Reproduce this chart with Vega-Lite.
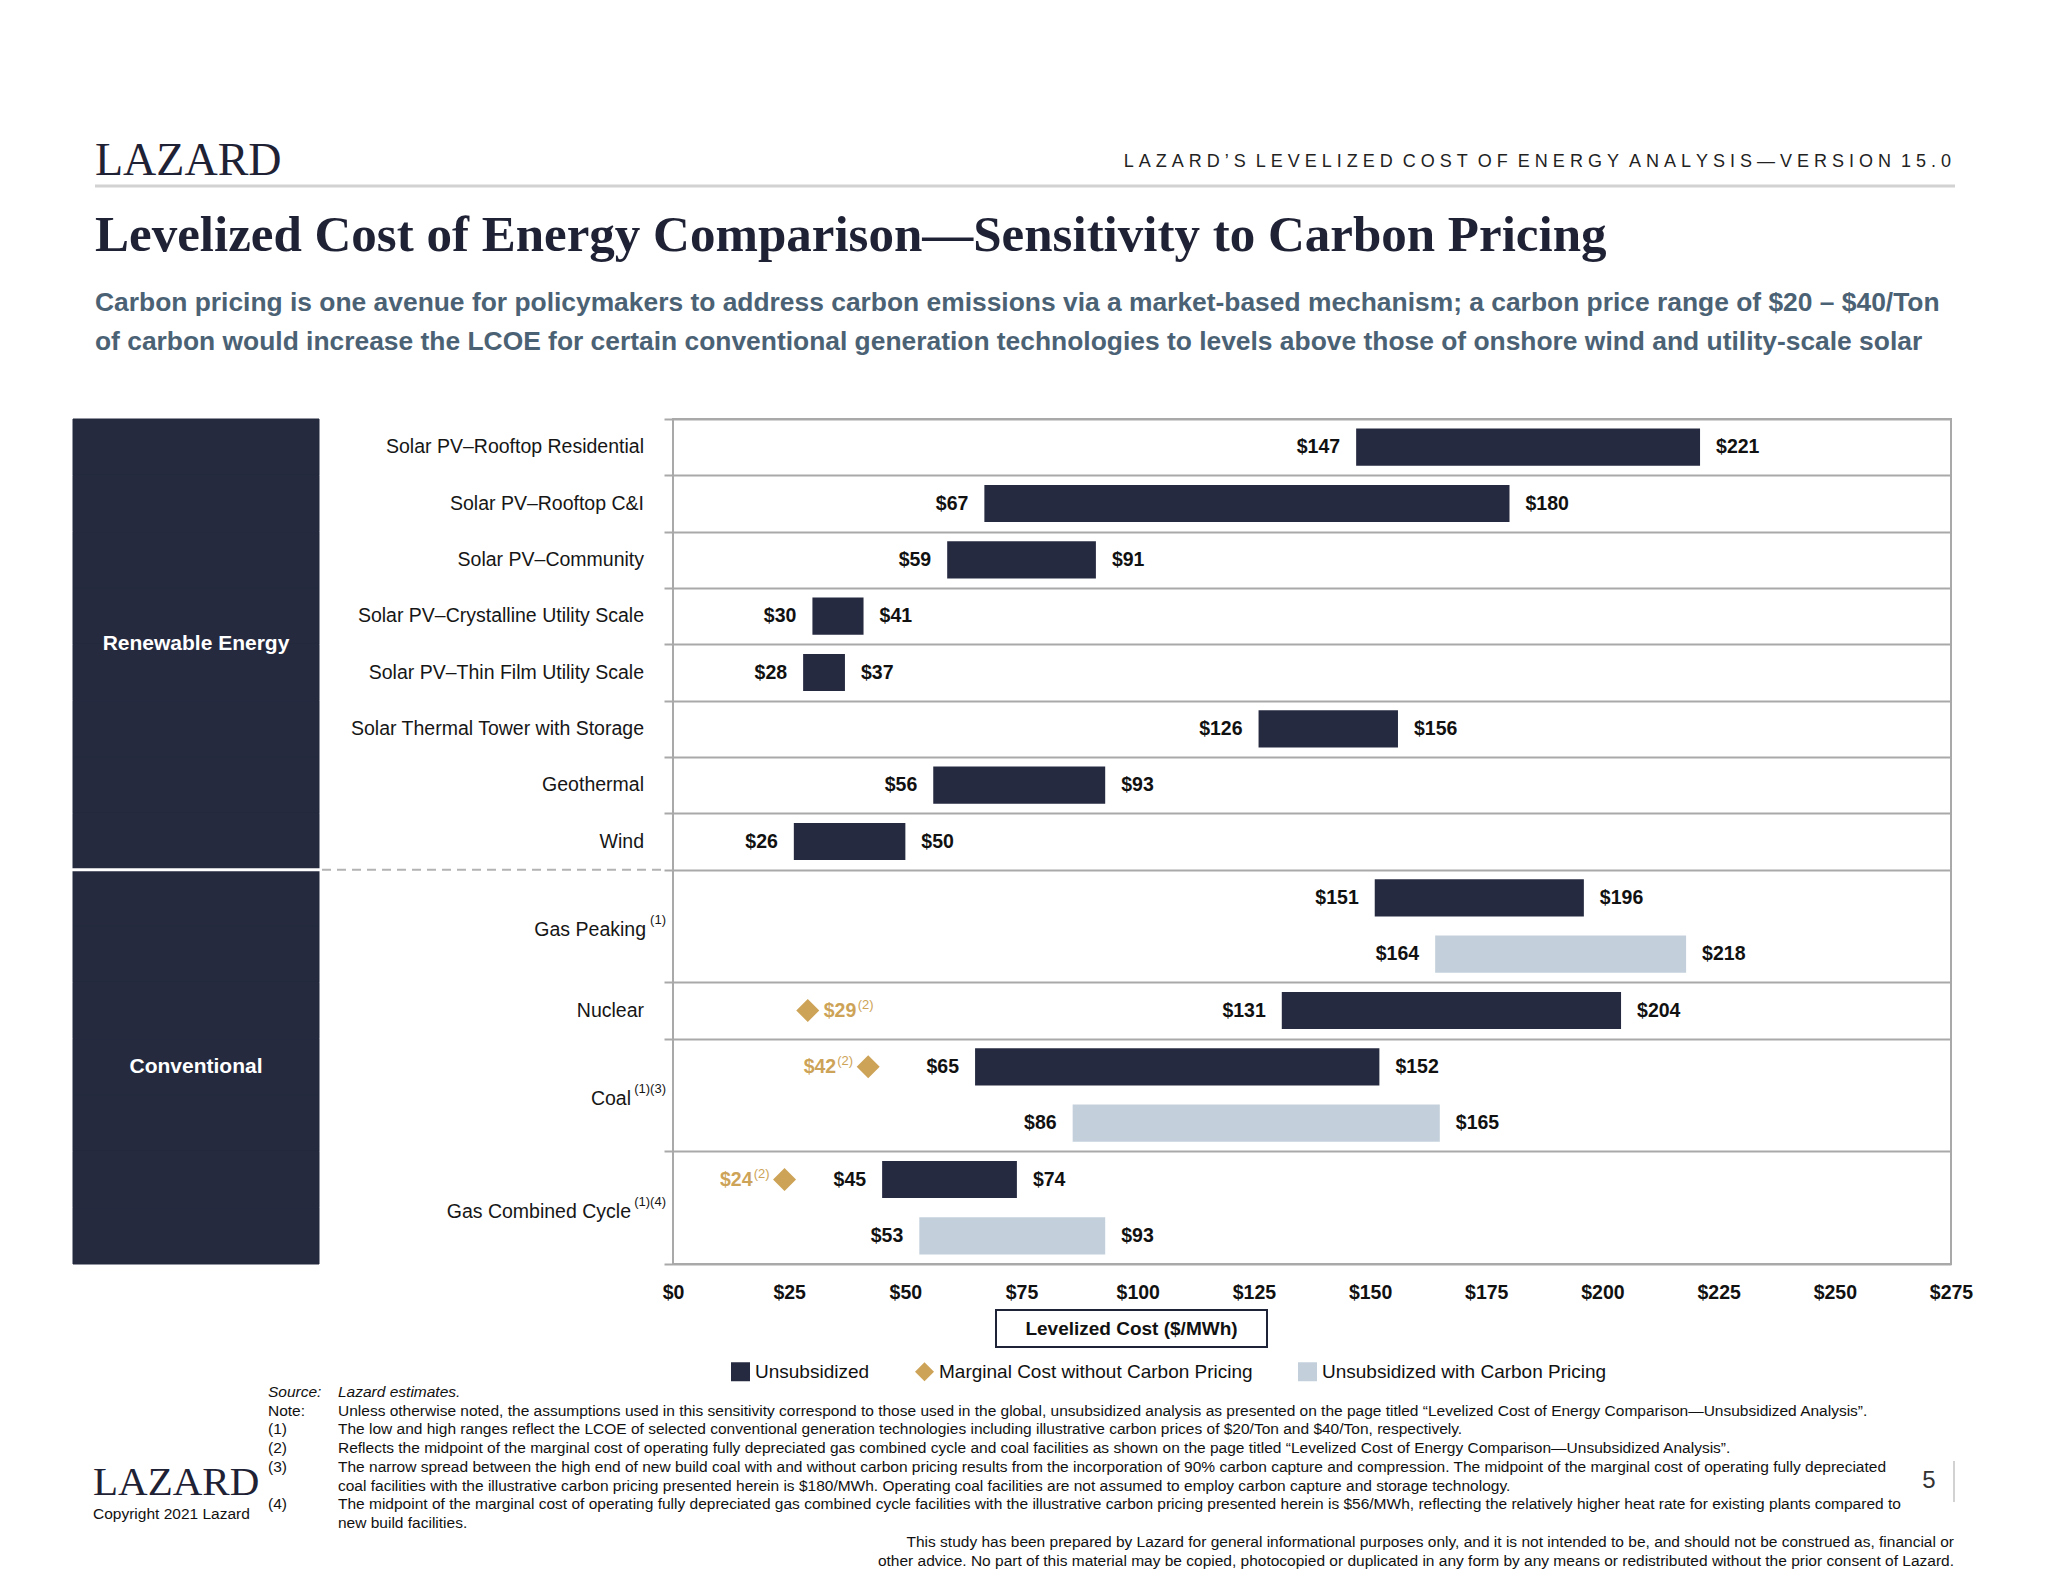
{
  "$schema": "https://vega.github.io/schema/vega-lite/v6.json",
  "autosize": {"type": "none"},
  "width": 1278,
  "height": 845,
  "padding": {"left": 673, "top": 419, "right": 97, "bottom": 318},
  "background": "#ffffff",
  "title": {
    "text": "Levelized Cost of Energy Comparison—Sensitivity to Carbon Pricing",
    "subtitle": ["Carbon pricing is one avenue for policymakers to address carbon emissions via a market-based mechanism; a carbon price range of $20 – $40/Ton", "of carbon would increase the LCOE for certain conventional generation technologies to levels above those of onshore wind and utility-scale solar"],
    "anchor": "start", "frame": "group", "dx": -578, "dy": 278, "offset": 60, "limit": 2000,
    "font": "Liberation Serif", "fontSize": 51, "fontWeight": "bold", "color": "#1F2235",
    "subtitleFont": "Liberation Sans, Arial, sans-serif",
    "subtitleFontSize": 26.4, "subtitleFontWeight": "bold", "subtitleColor": "#4B6275",
    "subtitleLineHeight": 39, "subtitlePadding": 28
  },
  "datasets": {
    "bars": [
      {"row": 1, "group": "Renewable Energy", "tech": "Solar PV–Rooftop Residential", "note": "", "series": "Unsubsidized", "low": 147, "high": 221},
      {"row": 2, "group": "Renewable Energy", "tech": "Solar PV–Rooftop C&I", "note": "", "series": "Unsubsidized", "low": 67, "high": 180},
      {"row": 3, "group": "Renewable Energy", "tech": "Solar PV–Community", "note": "", "series": "Unsubsidized", "low": 59, "high": 91},
      {"row": 4, "group": "Renewable Energy", "tech": "Solar PV–Crystalline Utility Scale", "note": "", "series": "Unsubsidized", "low": 30, "high": 41},
      {"row": 5, "group": "Renewable Energy", "tech": "Solar PV–Thin Film Utility Scale", "note": "", "series": "Unsubsidized", "low": 28, "high": 37},
      {"row": 6, "group": "Renewable Energy", "tech": "Solar Thermal Tower with Storage", "note": "", "series": "Unsubsidized", "low": 126, "high": 156},
      {"row": 7, "group": "Renewable Energy", "tech": "Geothermal", "note": "", "series": "Unsubsidized", "low": 56, "high": 93},
      {"row": 8, "group": "Renewable Energy", "tech": "Wind", "note": "", "series": "Unsubsidized", "low": 26, "high": 50},
      {"row": 9, "group": "Conventional", "tech": "Gas Peaking", "note": "(1)", "series": "Unsubsidized", "low": 151, "high": 196},
      {"row": 10, "group": "Conventional", "tech": "Gas Peaking", "note": "(1)", "series": "Unsubsidized with Carbon Pricing", "low": 164, "high": 218},
      {"row": 11, "group": "Conventional", "tech": "Nuclear", "note": "", "series": "Unsubsidized", "low": 131, "high": 204},
      {"row": 12, "group": "Conventional", "tech": "Coal", "note": "(1)(3)", "series": "Unsubsidized", "low": 65, "high": 152},
      {"row": 13, "group": "Conventional", "tech": "Coal", "note": "(1)(3)", "series": "Unsubsidized with Carbon Pricing", "low": 86, "high": 165},
      {"row": 14, "group": "Conventional", "tech": "Gas Combined Cycle", "note": "(1)(4)", "series": "Unsubsidized", "low": 45, "high": 74},
      {"row": 15, "group": "Conventional", "tech": "Gas Combined Cycle", "note": "(1)(4)", "series": "Unsubsidized with Carbon Pricing", "low": 53, "high": 93}
    ],
    "marginal": [
      {"row": 11, "tech": "Nuclear", "series": "Marginal Cost without Carbon Pricing", "value": 29, "note": "(2)"},
      {"row": 12, "tech": "Coal", "series": "Marginal Cost without Carbon Pricing", "value": 42, "note": "(2)"},
      {"row": 14, "tech": "Gas Combined Cycle", "series": "Marginal Cost without Carbon Pricing", "value": 24, "note": "(2)"}
    ],
    "page": [
      {"item": "logo", "text": "LAZARD"},
      {"item": "header", "text": "L\u00a0A\u00a0Z\u00a0A\u00a0R\u00a0D\u00a0’\u00a0S\u00a0\u00a0L\u00a0E\u00a0V\u00a0E\u00a0L\u00a0I\u00a0Z\u00a0E\u00a0D\u00a0\u00a0C\u00a0O\u00a0S\u00a0T\u00a0\u00a0O\u00a0F\u00a0\u00a0E\u00a0N\u00a0E\u00a0R\u00a0G\u00a0Y\u00a0\u00a0A\u00a0N\u00a0A\u00a0L\u00a0Y\u00a0S\u00a0I\u00a0S\u00a0—\u00a0V\u00a0E\u00a0R\u00a0S\u00a0I\u00a0O\u00a0N\u00a0\u00a01\u00a05\u00a0.\u00a00"},
      {"item": "footlogo", "text": "LAZARD"},
      {"item": "copyright", "text": "Copyright 2021 Lazard"},
      {"item": "page", "text": "5"}
    ],
    "notes": [
      {"line": 0, "kind": "source", "tag": "Source:", "text": "Lazard estimates."},
      {"line": 1, "kind": "note", "tag": "Note:", "text": "Unless otherwise noted, the assumptions used in this sensitivity correspond to those used in the global, unsubsidized analysis as presented on the page titled “Levelized Cost of Energy Comparison—Unsubsidized Analysis”."},
      {"line": 2, "kind": "note", "tag": "(1)", "text": "The low and high ranges reflect the LCOE of selected conventional generation technologies including illustrative carbon prices of $20/Ton and $40/Ton, respectively."},
      {"line": 3, "kind": "note", "tag": "(2)", "text": "Reflects the midpoint of the marginal cost of operating fully depreciated gas combined cycle and coal facilities as shown on the page titled “Levelized Cost of Energy Comparison—Unsubsidized Analysis”."},
      {"line": 4, "kind": "note", "tag": "(3)", "text": "The narrow spread between the high end of new build coal with and without carbon pricing results from the incorporation of 90% carbon capture and compression. The midpoint of the marginal cost of operating fully depreciated"},
      {"line": 5, "kind": "note", "tag": "", "text": "coal facilities with the illustrative carbon pricing presented herein is $180/MWh. Operating coal facilities are not assumed to employ carbon capture and storage technology."},
      {"line": 6, "kind": "note", "tag": "(4)", "text": "The midpoint of the marginal cost of operating fully depreciated gas combined cycle facilities with the illustrative carbon pricing presented herein is $56/MWh, reflecting the relatively higher heat rate for existing plants compared to"},
      {"line": 7, "kind": "note", "tag": "", "text": "new build facilities."}
    ],
    "disclaimer": [
      {"line": 0, "text": "This study has been prepared by Lazard for general informational purposes only, and it is not intended to be, and should not be construed as, financial or"},
      {"line": 1, "text": "other advice. No part of this material may be copied, photocopied or duplicated in any form by any means or redistributed without the prior consent of Lazard."}
    ]
  },
  "resolve": {"scale": {"x": "independent", "y": "independent"}},
  "layer": [
    {
      "data": {"name": "bars"},
      "transform": [{"aggregate": [{"op": "mean", "field": "row", "as": "mid"}], "groupby": ["tech", "note"]}, {"filter": "datum.note === ''"}],
      "mark": {"type": "text", "align": "right", "baseline": "middle", "dx": -29, "font": "Liberation Sans, Arial, sans-serif", "fontSize": 19.5, "color": "#161616"},
      "encoding": {
        "x": {"datum": 0, "type": "quantitative", "scale": {"domain": [0, 275], "nice": false, "zero": false}, "axis": null},
        "y": {"field": "mid", "type": "quantitative", "scale": {"domain": [0.5, 15.5], "range": [0, 845], "nice": false, "zero": false},
              "axis": {"values": [0.5, 1.5, 2.5, 3.5, 4.5, 5.5, 6.5, 7.5, 8.5, 10.5, 11.5, 13.5, 15.5], "grid": true, "gridColor": "#A9A9A9", "gridWidth": 2, "ticks": true, "tickSize": 9, "tickColor": "#A9A9A9", "tickWidth": 2, "labels": false, "domain": false, "title": null}},
        "text": {"field": "tech"}
      }
    },
    {
      "data": {"name": "bars"},
      "transform": [{"aggregate": [{"op": "mean", "field": "row", "as": "mid"}], "groupby": ["tech", "note"]}, {"filter": "datum.tech === 'Gas Peaking'"}],
      "mark": {"type": "text", "align": "right", "baseline": "middle", "dx": -27, "dy": 4, "font": "Liberation Sans, Arial, sans-serif", "fontSize": 19.5, "color": "#161616"},
      "encoding": {
        "x": {"datum": 0, "type": "quantitative", "scale": {"domain": [0, 275], "nice": false, "zero": false}, "axis": null},
        "y": {"field": "mid", "type": "quantitative", "scale": {"domain": [0.5, 15.5], "range": [0, 845], "nice": false, "zero": false}, "axis": null},
        "text": {"field": "tech"}
      }
    },
    {
      "data": {"name": "bars"},
      "transform": [{"aggregate": [{"op": "mean", "field": "row", "as": "mid"}], "groupby": ["tech", "note"]}, {"filter": "datum.note !== '' && datum.tech !== 'Gas Peaking'"}],
      "mark": {"type": "text", "align": "right", "baseline": "middle", "dx": -42, "dy": 4, "font": "Liberation Sans, Arial, sans-serif", "fontSize": 19.5, "color": "#161616"},
      "encoding": {
        "x": {"datum": 0, "type": "quantitative", "scale": {"domain": [0, 275], "nice": false, "zero": false}, "axis": null},
        "y": {"field": "mid", "type": "quantitative", "scale": {"domain": [0.5, 15.5], "range": [0, 845], "nice": false, "zero": false}, "axis": null},
        "text": {"field": "tech"}
      }
    },
    {
      "data": {"name": "bars"},
      "transform": [{"aggregate": [{"op": "mean", "field": "row", "as": "mid"}], "groupby": ["tech", "note"]}, {"filter": "datum.note !== ''"}],
      "mark": {"type": "text", "align": "right", "baseline": "middle", "dx": -7, "dy": -6, "font": "Liberation Sans, Arial, sans-serif", "fontSize": 13, "color": "#161616"},
      "encoding": {
        "x": {"datum": 0, "type": "quantitative", "scale": {"domain": [0, 275], "nice": false, "zero": false}, "axis": null},
        "y": {"field": "mid", "type": "quantitative", "scale": {"domain": [0.5, 15.5], "range": [0, 845], "nice": false, "zero": false}, "axis": null},
        "text": {"field": "note"}
      }
    },
    {
      "data": {"name": "bars"},
      "mark": {"type": "rect", "color": "#252A3F", "stroke": "#252A3F", "strokeWidth": 1},
      "encoding": {
        "x": {"datum": 73, "type": "quantitative", "scale": {"domain": [0, 2048], "range": [-673, 1375], "nice": false, "zero": false}, "axis": null},
        "x2": {"datum": 319},
        "y": {"field": "row", "type": "ordinal", "scale": {"type": "band", "domain": [1, 2, 3, 4, 5, 6, 7, 8, 9, 10, 11, 12, 13, 14, 15], "paddingInner": 0, "paddingOuter": 0}, "axis": null}
      }
    },
    {
      "data": {"name": "bars"},
      "transform": [{"filter": "datum.group === 'Conventional'"}, {"aggregate": [{"op": "min", "field": "row", "as": "row"}]}],
      "mark": {"type": "rule", "color": "#ffffff", "strokeWidth": 3},
      "encoding": {
        "x": {"datum": 70, "type": "quantitative", "scale": {"domain": [0, 2048], "range": [-673, 1375], "nice": false, "zero": false}, "axis": null},
        "x2": {"datum": 322},
        "y": {"field": "row", "type": "ordinal", "bandPosition": 0, "scale": {"type": "band", "domain": [1, 2, 3, 4, 5, 6, 7, 8, 9, 10, 11, 12, 13, 14, 15], "paddingInner": 0, "paddingOuter": 0}, "axis": null}
      }
    },
    {
      "data": {"name": "bars"},
      "transform": [{"filter": "datum.group === 'Conventional'"}, {"aggregate": [{"op": "min", "field": "row", "as": "row"}]}],
      "mark": {"type": "rule", "color": "#B3B3B3", "strokeWidth": 2, "strokeDash": [9, 6]},
      "encoding": {
        "x": {"datum": 322, "type": "quantitative", "scale": {"domain": [0, 2048], "range": [-673, 1375], "nice": false, "zero": false}, "axis": null},
        "x2": {"datum": 664},
        "y": {"field": "row", "type": "ordinal", "bandPosition": 0, "scale": {"type": "band", "domain": [1, 2, 3, 4, 5, 6, 7, 8, 9, 10, 11, 12, 13, 14, 15], "paddingInner": 0, "paddingOuter": 0}, "axis": null}
      }
    },
    {
      "data": {"name": "bars"},
      "transform": [{"aggregate": [{"op": "mean", "field": "row", "as": "mid"}], "groupby": ["group"]}],
      "mark": {"type": "text", "align": "center", "baseline": "middle", "font": "Liberation Sans, Arial, sans-serif", "fontSize": 21, "fontWeight": "bold", "color": "#ffffff"},
      "encoding": {
        "x": {"datum": 196, "type": "quantitative", "scale": {"domain": [0, 2048], "range": [-673, 1375], "nice": false, "zero": false}, "axis": null},
        "y": {"field": "mid", "type": "quantitative", "scale": {"domain": [0.5, 15.5], "range": [0, 845], "nice": false, "zero": false}, "axis": null},
        "text": {"field": "group"}
      }
    },
    {
      "data": {"name": "bars"},
      "mark": {"type": "bar"},
      "encoding": {
        "y": {"field": "row", "type": "ordinal", "scale": {"type": "band", "domain": [1, 2, 3, 4, 5, 6, 7, 8, 9, 10, 11, 12, 13, 14, 15], "paddingInner": 0.34, "paddingOuter": 0.17}, "axis": null},
        "x": {"field": "low", "type": "quantitative", "scale": {"domain": [0, 275], "nice": false, "zero": false},
              "axis": {"values": [0, 25, 50, 75, 100, 125, 150, 175, 200, 225, 250, 275], "labelExpr": "'$' + datum.value", "labelFont": "Liberation Sans, Arial, sans-serif", "labelFontSize": 19.5, "labelFontWeight": "bold", "labelColor": "#111111", "labelPadding": 19, "labelFlush": false, "ticks": false, "domain": false, "grid": false,
                       "title": "Levelized Cost ($/MWh)", "titleFont": "Liberation Sans, Arial, sans-serif", "titleFontSize": 19, "titleFontWeight": "bold", "titleColor": "#111111", "titleX": 458, "titleY": 64, "titleBaseline": "middle", "titleAlign": "center"}},
        "x2": {"field": "high"},
        "color": {"field": "series", "type": "nominal",
                  "scale": {"domain": ["Unsubsidized", "Marginal Cost without Carbon Pricing", "Unsubsidized with Carbon Pricing"], "range": ["#262A40", "#CDA357", "#C3D0DB"]},
                  "legend": {"title": null}}
      }
    },
    {
      "data": {"name": "bars"},
      "mark": {"type": "text", "align": "right", "baseline": "middle", "dx": -16, "font": "Liberation Sans, Arial, sans-serif", "fontSize": 19.5, "fontWeight": "bold", "color": "#111111"},
      "encoding": {
        "x": {"field": "low", "type": "quantitative", "scale": {"domain": [0, 275], "nice": false, "zero": false}, "axis": null},
        "y": {"field": "row", "type": "quantitative", "scale": {"domain": [0.5, 15.5], "range": [0, 845], "nice": false, "zero": false}, "axis": null},
        "text": {"field": "low", "format": "$.0f"}
      }
    },
    {
      "data": {"name": "bars"},
      "mark": {"type": "text", "align": "left", "baseline": "middle", "dx": 16, "font": "Liberation Sans, Arial, sans-serif", "fontSize": 19.5, "fontWeight": "bold", "color": "#111111"},
      "encoding": {
        "x": {"field": "high", "type": "quantitative", "scale": {"domain": [0, 275], "nice": false, "zero": false}, "axis": null},
        "y": {"field": "row", "type": "quantitative", "scale": {"domain": [0.5, 15.5], "range": [0, 845], "nice": false, "zero": false}, "axis": null},
        "text": {"field": "high", "format": "$.0f"}
      }
    },
    {
      "data": {"name": "marginal"},
      "mark": {"type": "point", "filled": true, "opacity": 1, "size": 529, "strokeWidth": 0},
      "encoding": {
        "x": {"field": "value", "type": "quantitative", "scale": {"domain": [0, 275], "nice": false, "zero": false}, "axis": null},
        "y": {"field": "row", "type": "quantitative", "scale": {"domain": [0.5, 15.5], "range": [0, 845], "nice": false, "zero": false}, "axis": null},
        "color": {"field": "series", "type": "nominal", "legend": {"title": null}},
        "shape": {"field": "series", "type": "nominal", "scale": {"domain": ["Unsubsidized", "Marginal Cost without Carbon Pricing", "Unsubsidized with Carbon Pricing"], "range": ["square", "diamond", "square"]}, "legend": {"title": null}}
      }
    },
    {
      "data": {"name": "marginal"},
      "transform": [{"filter": "datum.tech === 'Nuclear'"}],
      "mark": {"type": "text", "align": "left", "baseline": "middle", "dx": 16, "font": "Liberation Sans, Arial, sans-serif", "fontSize": 19.5, "fontWeight": "bold", "color": "#CDA357"},
      "encoding": {
        "x": {"field": "value", "type": "quantitative", "scale": {"domain": [0, 275], "nice": false, "zero": false}, "axis": null},
        "y": {"field": "row", "type": "quantitative", "scale": {"domain": [0.5, 15.5], "range": [0, 845], "nice": false, "zero": false}, "axis": null},
        "text": {"field": "value", "format": "$.0f"}
      }
    },
    {
      "data": {"name": "marginal"},
      "transform": [{"filter": "datum.tech === 'Nuclear'"}],
      "mark": {"type": "text", "align": "left", "baseline": "middle", "dx": 50, "dy": -6, "font": "Liberation Sans, Arial, sans-serif", "fontSize": 13, "color": "#CDA357"},
      "encoding": {
        "x": {"field": "value", "type": "quantitative", "scale": {"domain": [0, 275], "nice": false, "zero": false}, "axis": null},
        "y": {"field": "row", "type": "quantitative", "scale": {"domain": [0.5, 15.5], "range": [0, 845], "nice": false, "zero": false}, "axis": null},
        "text": {"field": "note"}
      }
    },
    {
      "data": {"name": "marginal"},
      "transform": [{"filter": "datum.tech !== 'Nuclear'"}],
      "mark": {"type": "text", "align": "right", "baseline": "middle", "dx": -32, "font": "Liberation Sans, Arial, sans-serif", "fontSize": 19.5, "fontWeight": "bold", "color": "#CDA357"},
      "encoding": {
        "x": {"field": "value", "type": "quantitative", "scale": {"domain": [0, 275], "nice": false, "zero": false}, "axis": null},
        "y": {"field": "row", "type": "quantitative", "scale": {"domain": [0.5, 15.5], "range": [0, 845], "nice": false, "zero": false}, "axis": null},
        "text": {"field": "value", "format": "$.0f"}
      }
    },
    {
      "data": {"name": "marginal"},
      "transform": [{"filter": "datum.tech !== 'Nuclear'"}],
      "mark": {"type": "text", "align": "right", "baseline": "middle", "dx": -15, "dy": -6, "font": "Liberation Sans, Arial, sans-serif", "fontSize": 13, "color": "#CDA357"},
      "encoding": {
        "x": {"field": "value", "type": "quantitative", "scale": {"domain": [0, 275], "nice": false, "zero": false}, "axis": null},
        "y": {"field": "row", "type": "quantitative", "scale": {"domain": [0.5, 15.5], "range": [0, 845], "nice": false, "zero": false}, "axis": null},
        "text": {"field": "note"}
      }
    },
    {
      "data": {"name": "page"},
      "transform": [{"filter": "datum.item === 'logo'"}],
      "mark": {"type": "text", "align": "left", "baseline": "alphabetic", "font": "Liberation Serif, DejaVu Serif, serif", "fontSize": 46, "color": "#1F2235"},
      "encoding": {
        "x": {"datum": 95, "type": "quantitative", "scale": {"domain": [0, 2048], "range": [-673, 1375], "nice": false, "zero": false}, "axis": null},
        "y": {"datum": 175, "type": "quantitative", "scale": {"domain": [0, 1582], "range": [-419, 1163], "nice": false, "zero": false}, "axis": null},
        "text": {"field": "text"}
      }
    },
    {
      "data": {"name": "page"},
      "transform": [{"filter": "datum.item === 'header'"}],
      "mark": {"type": "text", "align": "right", "baseline": "alphabetic", "font": "Liberation Sans, Arial, sans-serif", "fontSize": 18, "color": "#222222"},
      "encoding": {
        "x": {"datum": 1951, "type": "quantitative", "scale": {"domain": [0, 2048], "range": [-673, 1375], "nice": false, "zero": false}, "axis": null},
        "y": {"datum": 167, "type": "quantitative", "scale": {"domain": [0, 1582], "range": [-419, 1163], "nice": false, "zero": false}, "axis": null},
        "text": {"field": "text"}
      }
    },
    {
      "data": {"name": "page"},
      "transform": [{"filter": "datum.item === 'header'"}],
      "mark": {"type": "rule", "color": "#D2D2D2", "strokeWidth": 3},
      "encoding": {
        "x": {"datum": 95, "type": "quantitative", "scale": {"domain": [0, 2048], "range": [-673, 1375], "nice": false, "zero": false}, "axis": null},
        "x2": {"datum": 1955},
        "y": {"datum": 186, "type": "quantitative", "scale": {"domain": [0, 1582], "range": [-419, 1163], "nice": false, "zero": false}, "axis": null}
      }
    },
    {
      "data": {"name": "page"},
      "transform": [{"filter": "datum.item === 'page'"}],
      "mark": {"type": "rect", "fill": null, "fillOpacity": 0, "stroke": "#1F2338", "strokeWidth": 2},
      "encoding": {
        "x": {"datum": 996, "type": "quantitative", "scale": {"domain": [0, 2048], "range": [-673, 1375], "nice": false, "zero": false}, "axis": null},
        "x2": {"datum": 1267},
        "y": {"datum": 1310, "type": "quantitative", "scale": {"domain": [0, 1582], "range": [-419, 1163], "nice": false, "zero": false}, "axis": null},
        "y2": {"datum": 1347}
      }
    },
    {
      "data": {"name": "notes"},
      "transform": [{"filter": "datum.kind === 'source'"}],
      "mark": {"type": "text", "align": "left", "baseline": "middle", "font": "Liberation Sans, Arial, sans-serif", "fontSize": 15.5, "fontStyle": "italic", "color": "#111111"},
      "encoding": {
        "x": {"datum": 268, "type": "quantitative", "scale": {"domain": [0, 2048], "range": [-673, 1375], "nice": false, "zero": false}, "axis": null},
        "y": {"field": "line", "type": "quantitative", "scale": {"domain": [0, 7], "range": [973, 1104], "nice": false, "zero": false}, "axis": null},
        "text": {"field": "tag"}
      }
    },
    {
      "data": {"name": "notes"},
      "transform": [{"filter": "datum.kind === 'source'"}],
      "mark": {"type": "text", "align": "left", "baseline": "middle", "font": "Liberation Sans, Arial, sans-serif", "fontSize": 15.5, "fontStyle": "italic", "color": "#111111"},
      "encoding": {
        "x": {"datum": 338, "type": "quantitative", "scale": {"domain": [0, 2048], "range": [-673, 1375], "nice": false, "zero": false}, "axis": null},
        "y": {"field": "line", "type": "quantitative", "scale": {"domain": [0, 7], "range": [973, 1104], "nice": false, "zero": false}, "axis": null},
        "text": {"field": "text"}
      }
    },
    {
      "data": {"name": "notes"},
      "transform": [{"filter": "datum.kind === 'note'"}],
      "mark": {"type": "text", "align": "left", "baseline": "middle", "font": "Liberation Sans, Arial, sans-serif", "fontSize": 15.5, "color": "#111111"},
      "encoding": {
        "x": {"datum": 268, "type": "quantitative", "scale": {"domain": [0, 2048], "range": [-673, 1375], "nice": false, "zero": false}, "axis": null},
        "y": {"field": "line", "type": "quantitative", "scale": {"domain": [0, 7], "range": [973, 1104], "nice": false, "zero": false}, "axis": null},
        "text": {"field": "tag"}
      }
    },
    {
      "data": {"name": "notes"},
      "transform": [{"filter": "datum.kind === 'note'"}],
      "mark": {"type": "text", "align": "left", "baseline": "middle", "font": "Liberation Sans, Arial, sans-serif", "fontSize": 15.5, "color": "#111111"},
      "encoding": {
        "x": {"datum": 338, "type": "quantitative", "scale": {"domain": [0, 2048], "range": [-673, 1375], "nice": false, "zero": false}, "axis": null},
        "y": {"field": "line", "type": "quantitative", "scale": {"domain": [0, 7], "range": [973, 1104], "nice": false, "zero": false}, "axis": null},
        "text": {"field": "text"}
      }
    },
    {
      "data": {"name": "page"},
      "transform": [{"filter": "datum.item === 'footlogo'"}],
      "mark": {"type": "text", "align": "left", "baseline": "alphabetic", "font": "Liberation Serif, DejaVu Serif, serif", "fontSize": 41, "color": "#1F2235"},
      "encoding": {
        "x": {"datum": 93, "type": "quantitative", "scale": {"domain": [0, 2048], "range": [-673, 1375], "nice": false, "zero": false}, "axis": null},
        "y": {"datum": 1495, "type": "quantitative", "scale": {"domain": [0, 1582], "range": [-419, 1163], "nice": false, "zero": false}, "axis": null},
        "text": {"field": "text"}
      }
    },
    {
      "data": {"name": "page"},
      "transform": [{"filter": "datum.item === 'copyright'"}],
      "mark": {"type": "text", "align": "left", "baseline": "alphabetic", "font": "Liberation Sans, Arial, sans-serif", "fontSize": 15.5, "color": "#111111"},
      "encoding": {
        "x": {"datum": 93, "type": "quantitative", "scale": {"domain": [0, 2048], "range": [-673, 1375], "nice": false, "zero": false}, "axis": null},
        "y": {"datum": 1519, "type": "quantitative", "scale": {"domain": [0, 1582], "range": [-419, 1163], "nice": false, "zero": false}, "axis": null},
        "text": {"field": "text"}
      }
    },
    {
      "data": {"name": "page"},
      "transform": [{"filter": "datum.item === 'page'"}],
      "mark": {"type": "text", "align": "center", "baseline": "middle", "font": "Liberation Sans, Arial, sans-serif", "fontSize": 24, "color": "#333333"},
      "encoding": {
        "x": {"datum": 1929, "type": "quantitative", "scale": {"domain": [0, 2048], "range": [-673, 1375], "nice": false, "zero": false}, "axis": null},
        "y": {"datum": 1481, "type": "quantitative", "scale": {"domain": [0, 1582], "range": [-419, 1163], "nice": false, "zero": false}, "axis": null},
        "text": {"field": "text"}
      }
    },
    {
      "data": {"name": "page"},
      "transform": [{"filter": "datum.item === 'page'"}],
      "mark": {"type": "rule", "color": "#D2D2D2", "strokeWidth": 2},
      "encoding": {
        "x": {"datum": 1954, "type": "quantitative", "scale": {"domain": [0, 2048], "range": [-673, 1375], "nice": false, "zero": false}, "axis": null},
        "y": {"datum": 1461, "type": "quantitative", "scale": {"domain": [0, 1582], "range": [-419, 1163], "nice": false, "zero": false}, "axis": null},
        "y2": {"datum": 1502}
      }
    },
    {
      "data": {"name": "disclaimer"},
      "mark": {"type": "text", "align": "right", "baseline": "middle", "font": "Liberation Sans, Arial, sans-serif", "fontSize": 15.5, "color": "#111111"},
      "encoding": {
        "x": {"datum": 1954, "type": "quantitative", "scale": {"domain": [0, 2048], "range": [-673, 1375], "nice": false, "zero": false}, "axis": null},
        "y": {"field": "line", "type": "quantitative", "scale": {"domain": [0, 1], "range": [1123, 1142], "nice": false, "zero": false}, "axis": null},
        "text": {"field": "text"}
      }
    }
  ],
  "config": {
    "view": {"stroke": "#A9A9A9", "strokeWidth": 2},
    "legend": {"orient": "none", "legendX": 58, "legendY": 943, "direction": "horizontal", "labelFont": "Liberation Sans, Arial, sans-serif", "labelFontSize": 19, "labelColor": "#111111", "symbolSize": 361, "symbolStrokeWidth": 0, "symbolOpacity": 1, "columnPadding": 45, "labelOffset": 5, "labelLimit": 0, "padding": 0}
  }
}
